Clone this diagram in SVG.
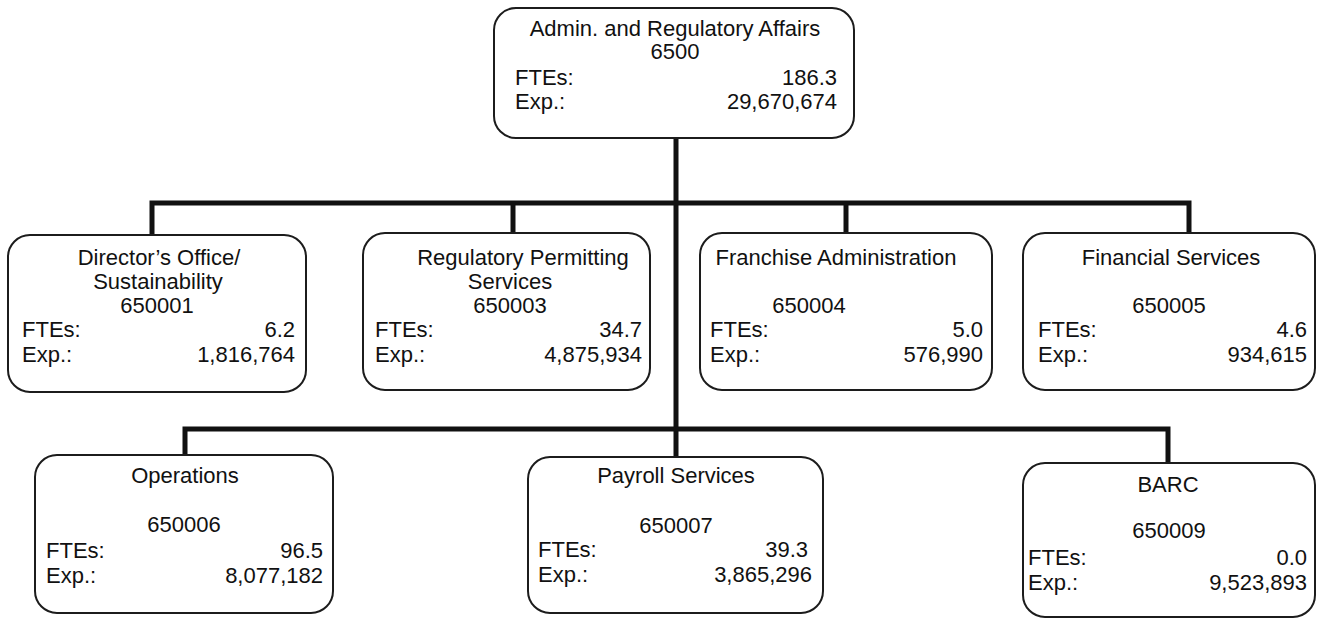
<svg xmlns="http://www.w3.org/2000/svg" width="1325" height="619" viewBox="0 0 1325 619">
<style>
.box{fill:#fff;stroke:#1c1c1c;stroke-width:2}
.t{font-family:"Liberation Sans",Arial,sans-serif;font-size:22px;fill:#111}
.c{text-anchor:middle}
.r{text-anchor:end}
.conn{fill:none;stroke:#111;stroke-width:5}
</style>
<rect width="1325" height="619" fill="#fff"/>
<g id="connectors">
<path class="conn" d="M676 138 V457"/>
<path class="conn" d="M152 235 V203 H1189 V233"/>
<path class="conn" d="M513 203 V233"/>
<path class="conn" d="M846 203 V233"/>
<path class="conn" d="M185 455 V429 H1168 V463"/>
</g>
<g id="n6500">
<rect class="box" x="494" y="8" width="360" height="130" rx="22"/>
<text class="t c" x="675" y="36">Admin. and Regulatory Affairs</text>
<text class="t c" x="675" y="59">6500</text>
<text class="t" x="515" y="85">FTEs:</text><text class="t r" x="837" y="85">186.3</text>
<text class="t" x="515" y="109">Exp.:</text><text class="t r" x="837" y="109">29,670,674</text>
</g>
<g id="n650001">
<rect class="box" x="8" y="235" width="298" height="157" rx="22"/>
<text class="t c" x="159" y="265">Director’s Office/</text>
<text class="t c" x="158" y="289">Sustainability</text>
<text class="t c" x="157" y="313">650001</text>
<text class="t" x="22" y="337">FTEs:</text><text class="t r" x="295" y="337">6.2</text>
<text class="t" x="22" y="362">Exp.:</text><text class="t r" x="295" y="362">1,816,764</text>
</g>
<g id="n650003">
<rect class="box" x="363" y="233" width="287" height="157" rx="22"/>
<text class="t c" x="523" y="265">Regulatory Permitting</text>
<text class="t c" x="510" y="289">Services</text>
<text class="t c" x="510" y="313">650003</text>
<text class="t" x="375" y="337">FTEs:</text><text class="t r" x="642" y="337">34.7</text>
<text class="t" x="375" y="362">Exp.:</text><text class="t r" x="642" y="362">4,875,934</text>
</g>
<g id="n650004">
<rect class="box" x="700" y="233" width="292" height="157" rx="22"/>
<text class="t c" x="836" y="265">Franchise Administration</text>
<text class="t c" x="809" y="313">650004</text>
<text class="t" x="710" y="337">FTEs:</text><text class="t r" x="983" y="337">5.0</text>
<text class="t" x="710" y="362">Exp.:</text><text class="t r" x="983" y="362">576,990</text>
</g>
<g id="n650005">
<rect class="box" x="1023" y="233" width="292" height="157" rx="22"/>
<text class="t c" x="1171" y="265">Financial Services</text>
<text class="t c" x="1169" y="313">650005</text>
<text class="t" x="1038" y="337">FTEs:</text><text class="t r" x="1307" y="337">4.6</text>
<text class="t" x="1038" y="362">Exp.:</text><text class="t r" x="1307" y="362">934,615</text>
</g>
<g id="n650006">
<rect class="box" x="35" y="455" width="298" height="158" rx="22"/>
<text class="t c" x="185" y="483">Operations</text>
<text class="t c" x="184" y="532">650006</text>
<text class="t" x="46" y="558">FTEs:</text><text class="t r" x="323" y="558">96.5</text>
<text class="t" x="46" y="583">Exp.:</text><text class="t r" x="323" y="583">8,077,182</text>
</g>
<g id="n650007">
<rect class="box" x="528" y="457" width="295" height="156" rx="22"/>
<text class="t c" x="676" y="483">Payroll Services</text>
<text class="t c" x="676" y="533">650007</text>
<text class="t" x="538" y="557">FTEs:</text><text class="t r" x="808" y="557">39.3</text>
<text class="t" x="538" y="582">Exp.:</text><text class="t r" x="812" y="582">3,865,296</text>
</g>
<g id="n650009">
<rect class="box" x="1023" y="463" width="292" height="154" rx="22"/>
<text class="t c" x="1168" y="492">BARC</text>
<text class="t c" x="1169" y="538">650009</text>
<text class="t" x="1028" y="565">FTEs:</text><text class="t r" x="1307" y="565">0.0</text>
<text class="t" x="1028" y="590">Exp.:</text><text class="t r" x="1307" y="590">9,523,893</text>
</g>
</svg>
